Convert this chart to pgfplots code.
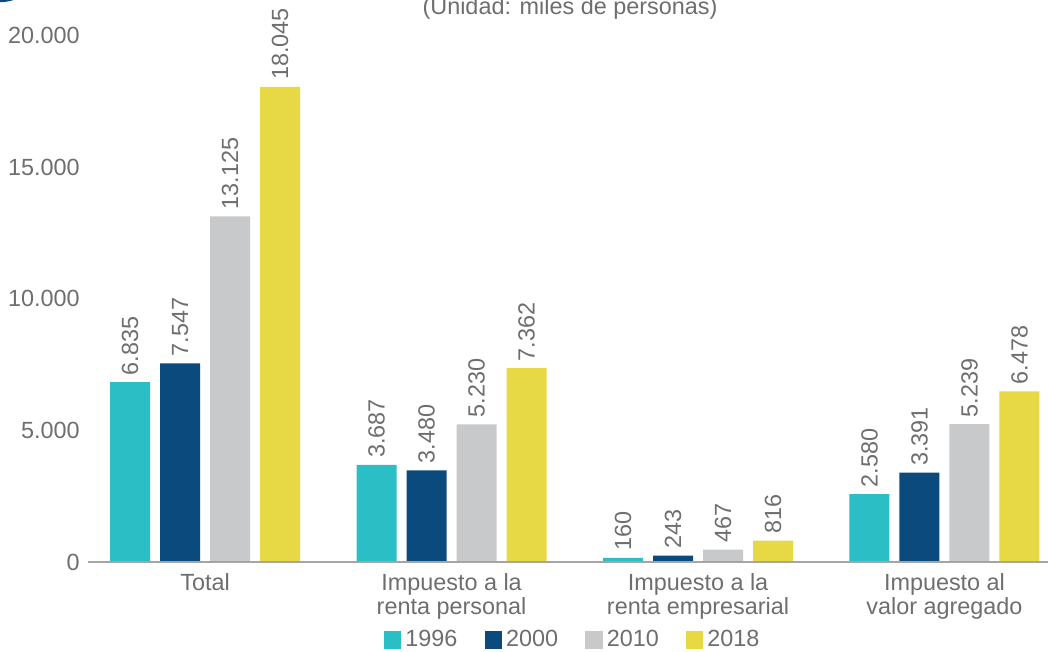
\documentclass[border=0pt]{standalone}
\usepackage{fontspec}
\setmainfont{Liberation Sans}
\usepackage{pgfplots}
\pgfplotsset{compat=1.18}
\pgfkeys{/pgf/number format/assume math mode=true}
\definecolor{cA}{HTML}{2BBFC5}
\definecolor{cB}{HTML}{0B4A7D}
\definecolor{cC}{HTML}{C8C9CB}
\definecolor{cD}{HTML}{E6D945}
\definecolor{ctext}{HTML}{6D6E70}
\definecolor{caxis}{HTML}{A5A5A5}
\newcommand{\f}{\fontsize{11.7pt}{10pt}\selectfont}
\begin{document}
\begin{tikzpicture}
\useasboundingbox (0,0) rectangle (524pt,326pt);
\draw[cB, line width=1.2pt] (0pt,346.5pt) circle (21pt);
\node[anchor=base, font=\f, text=ctext, inner sep=0pt] at (285pt,318.5pt) {(Unidad: miles de personas)};
\begin{axis}[
  at={(44pt,45pt)}, anchor=south west,
  scale only axis, width=480pt, height=263.25pt,
  xmin=-0.475, xmax=3.42, ymin=0, ymax=20000,
  enlargelimits=false, clip=false,
  axis line style={draw=none},
  major tick length=0pt,
  ybar=5pt, bar width=20pt,
  xtick={0,1,2,3},
  xticklabels={{Total},{Impuesto a la\\renta personal},{Impuesto a la\\renta empresarial},{Impuesto al\\valor agregado}},
  xticklabel style={font=\f, text=ctext, align=center, anchor=north, inner sep=0pt, yshift=-5.5pt},
  ytick={0,5000,10000,15000,20000},
  yticklabel style={font=\f, text=ctext, anchor=east, inner sep=0pt, xshift=-4pt,
    /pgf/number format/.cd, fixed, 1000 sep={.}},
  scaled y ticks=false,
  nodes near coords,
  nodes near coords style={font=\f, text=ctext, rotate=90, anchor=west, inner xsep=3.3pt, inner ysep=0pt,
    /pgf/number format/.cd, fixed, 1000 sep={.}},
  legend columns=4,
  legend style={at={(0.506,-0.148)}, anchor=center, draw=none, font=\f, text=ctext,
    /tikz/every even column/.append style={column sep=11.6pt}},
  legend image code/.code={\fill[#1,draw=none] (-1.5pt,-4.3pt) rectangle (7.2pt,4.3pt);},
]
\addplot[fill=cA, draw=none] coordinates {(0,6835) (1,3687) (2,160) (3,2580)};
\addplot[fill=cB, draw=none] coordinates {(0,7547) (1,3480) (2,243) (3,3391)};
\addplot[fill=cC, draw=none] coordinates {(0,13125) (1,5230) (2,467) (3,5239)};
\addplot[fill=cD, draw=none] coordinates {(0,18045) (1,7362) (2,816) (3,6478)};
\legend{1996,2000,2010,2018}
\draw[caxis, line width=1pt] (axis cs:-0.475,0) -- (axis cs:3.42,0);
\end{axis}
\end{tikzpicture}
\end{document}
